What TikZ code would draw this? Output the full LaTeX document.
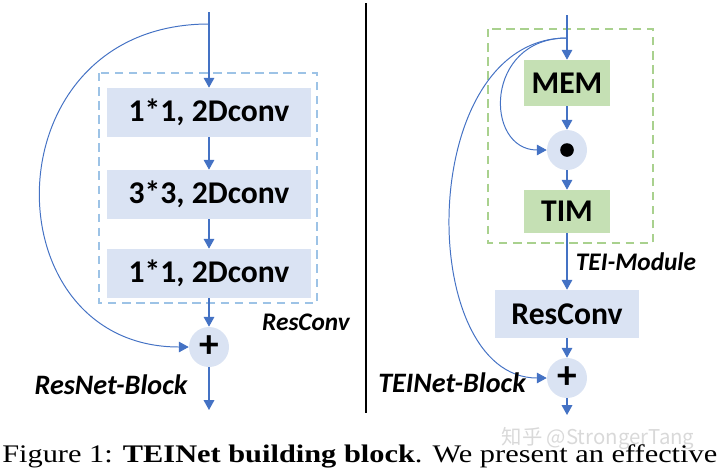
\documentclass[tikz,border=0pt]{standalone}
\usepackage{fontspec}
\setmainfont{Liberation Serif}
\newfontfamily\blockfont{Carlito}
\newfontfamily\cjkfont{Noto Sans CJK SC}
\usetikzlibrary{arrows.meta,positioning}
\definecolor{arrowblue}{HTML}{4472C4}
\definecolor{convfill}{HTML}{DAE3F3}
\definecolor{memfill}{HTML}{C5E0B4}
\definecolor{dashblue}{HTML}{9DC3E6}
\definecolor{dashgreen}{HTML}{A9D18E}
\tikzset{>={Triangle[length=7pt,width=7.5pt]},
  flow/.style={->,arrowblue,line width=1pt},
  skipline/.style={->,arrowblue,line width=0.7pt},
  blocktext/.style={font=\blockfont\bfseries\fontsize{22.5}{24}\selectfont,text=black},
  tag/.style={font=\blockfont\bfseries\itshape\fontsize{18}{20}\selectfont},
  bigtag/.style={font=\blockfont\bfseries\itshape\fontsize{20}{22}\selectfont},
  convbox/.style={blocktext,fill=convfill,minimum width=5.1cm,minimum height=1.225cm,inner sep=0pt},
  greenbox/.style={blocktext,fill=memfill,minimum width=2.15cm,minimum height=1.15cm,inner sep=0pt},
  opcircle/.style={circle,fill=convfill,minimum size=1cm,inner sep=0pt},
  plustext/.style={font=\blockfont\bfseries\fontsize{28}{28}\selectfont},
  dashbox/.style={line width=1pt,dash pattern=on 6pt off 4pt}}

\begin{document}
\begin{tikzpicture}[x=0.025cm,y=-0.025cm]
        \useasboundingbox (0,0) rectangle (720,475);

        % ResNet block
        \draw[dashbox,dashblue] (99,73) rectangle (317,303);
        \node[convbox] (conva) at (209,112.5) {1*1, 2Dconv};
        \node[convbox] (convb) at (209,194.5) {3*3, 2Dconv};
        \node[convbox] (convc) at (209,273.5) {1*1, 2Dconv};
        \node[opcircle,plustext] (addl) at (209,347) {+};
        \coordinate (lin) at (209,12);
        \coordinate (lsplit) at (209,24);
        \coordinate (lout) at (209,410);
        \draw[flow] (lin) -- (conva);
        \draw[flow] (conva) -- (convb);
        \draw[flow] (convb) -- (convc);
        \draw[flow] (convc) -- (addl);
        \draw[flow] (addl) -- (lout);
        \draw[skipline] (lsplit) .. controls (-12,24) and (-12,347) .. (addl.west);
        \node[tag] (resconvtag) at (306,322) {ResConv};
        \node[bigtag] (resnettag) at (111,385) {ResNet-Block};

        \draw[line width=1pt] (366,3) -- (366,413);

        % TEINet block
        \draw[dashbox,dashgreen] (488,29) rectangle (653,243);
        \node[greenbox] (mem) at (567,83) {MEM};
        \node[opcircle] (mult) at (567,150) {};
        \fill[black] (mult.center) circle (0.17cm);
        \node[greenbox,minimum height=1.075cm] (tim) at (567,211.5) {TIM};
        \node[convbox,minimum width=3.6cm,minimum height=1.2cm] (resconv) at (567,314) {ResConv};
        \node[opcircle,plustext] (addr) at (567,378) {+};
        \coordinate (rin) at (567,15);
        \coordinate (rsplit) at (567,38);
        \coordinate (rout) at (567,415);
        \draw[flow] (rin) -- (mem);
        \draw[flow] (mem) -- (mult);
        \draw[flow] (mult) -- (tim);
        \draw[flow] (tim) -- (resconv);
        \draw[flow] (resconv) -- (addr);
        \draw[flow] (addr) -- (rout);
        \draw[skipline] (rsplit) .. controls (484,38) and (484,150) .. (mult.west);
        \draw[skipline] (rsplit) .. controls (415,38) and (415,378) .. (addr.west);
        \node[tag] (teitag) at (636,262) {TEI-Module};
        \node[bigtag] (teinettag) at (452,383) {TEINet-Block};

        % caption
        \node[font=\cjkfont\fontsize{14.5}{15}\selectfont,text=gray!30,inner sep=0pt] (mark) at (598,438) {知乎 @StrongerTang};
        \node[anchor=base west,inner sep=0pt,font=\fontsize{18}{20}\selectfont] (caption) at (2,462)
            {\scalebox{1.2}[1]{Figure 1: \textbf{TEINet building block}. We present an effective}};
\end{tikzpicture}
\end{document}
